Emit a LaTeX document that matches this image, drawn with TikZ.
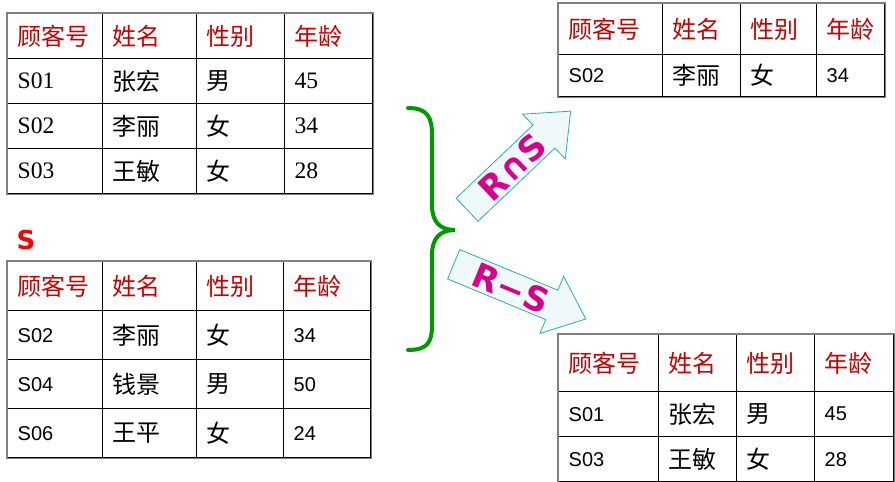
\documentclass[tikz,border=0pt]{standalone}
\usepackage{fontspec}
\usepackage{tikz}
\usetikzlibrary{matrix,shapes.arrows}
\setmainfont{Liberation Sans}
\newfontfamily\cjk{Noto Sans CJK SC}[Scale=1.2]
\newfontfamily\serifnum{Liberation Serif}[Scale=1.18]
\newfontfamily\opfont{DejaVu Sans}
\definecolor{hdred}{RGB}{200,0,0}
\definecolor{bracegreen}{RGB}{0,153,0}
\definecolor{opfill}{RGB}{240,249,249}
\definecolor{opline}{RGB}{50,170,170}
\definecolor{optext}{RGB}{215,0,140}
\begin{document}
\begin{tikzpicture}[
            x = 1pt, y = 1pt,
            tbl/.style = {matrix of nodes, inner sep = 0pt, anchor = north west,
                          column sep = -1pt, row sep = -1pt,
                          nodes = {draw, line width = 1pt, inner xsep = 10pt, inner ysep = 0pt,
                                   align = left, anchor = center,
                                   font = \fontsize{20}{24}\selectfont},
                          row 1/.style = {nodes = {text = hdred}}},
            cols/.style n args = {4}{column 1/.style = {nodes = {text width = #1}},
                                     column 2/.style = {nodes = {text width = #2}},
                                     column 3/.style = {nodes = {text width = #3}},
                                     column 4/.style = {nodes = {text width = #4}}},
            outer/.style = {draw = gray, line width = 1.5pt},
            opbox/.style = {single arrow, draw = opline, fill = opfill, line width = 0.8pt,
                            minimum height = 143pt, text height = 25pt, text depth = 0pt,
                            inner ysep = 3pt, inner xsep = 2pt,
                            single arrow head extend = 15pt, single arrow tip angle = 80,
                            text = optext, font = \opfont\bfseries\fontsize{34}{36}\selectfont}
            ]
            \useasboundingbox (0,0) rectangle (895,482);

            % R
            \matrix (R) [tbl, cols = {75pt}{74pt}{68pt}{68pt},
                         nodes = {minimum height = 45pt, font = \serifnum\fontsize{20}{24}\selectfont}] at (7,469) {
                \cjk 顾客号 & \cjk 姓名 & \cjk 性别 & \cjk 年龄 \\
                S01 & \cjk 张宏 & \cjk 男 & 45 \\
                S02 & \cjk 李丽 & \cjk 女 & 34 \\
                S03 & \cjk 王敏 & \cjk 女 & 28 \\
            };

            % S
            \node[text = red, font = \opfont\bfseries\fontsize{26}{28}\selectfont] (slabel) at (26,242) {S};
            \matrix (S) [tbl, cols = {75pt}{74pt}{67pt}{67pt},
                         nodes = {minimum height = 49pt}] at (7,221) {
                \cjk 顾客号 & \cjk 姓名 & \cjk 性别 & \cjk 年龄 \\
                S02 & \cjk 李丽 & \cjk 女 & 34 \\
                S04 & \cjk 钱景 & \cjk 男 & 50 \\
                S06 & \cjk 王平 & \cjk 女 & 24 \\
            };

            % R intersect S
            \matrix (RS) [tbl, cols = {84pt}{58pt}{56pt}{48pt},
                          nodes = {minimum height = 42pt},
                          row 1/.append style = {nodes = {minimum height = 51pt}}] at (558,479) {
                \cjk 顾客号 & \cjk 姓名 & \cjk 性别 & \cjk 年龄 \\
                S02 & \cjk 李丽 & \cjk 女 & 34 \\
            };

            % R minus S
            \matrix (RmS) [tbl, cols = {80pt}{58pt}{58pt}{59pt},
                           nodes = {minimum height = 45pt},
                           row 1/.append style = {nodes = {minimum height = 57pt}}] at (558,148) {
                \cjk 顾客号 & \cjk 姓名 & \cjk 性别 & \cjk 年龄 \\
                S01 & \cjk 张宏 & \cjk 男 & 45 \\
                S03 & \cjk 王敏 & \cjk 女 & 28 \\
            };

            \foreach \t in {R,S,RS,RmS}
                \draw[outer] (\t.north west) rectangle (\t.south east);

            % brace
            \draw[bracegreen, line width = 4pt, line cap = round]
                (408,374) .. controls (428,374) and (432,364) .. (432,347) -- (432,277)
                .. controls (432,260) and (440,252) .. (455,252)
                .. controls (440,252) and (432,244) .. (432,227) -- (432,157)
                .. controls (432,140) and (428,132) .. (408,132);

            % operations
            \node[opbox, rotate = 43.6] (isect) at (512,315) {R∩S\hspace{20pt}};
            \node[opbox, rotate = -22.5] (diff) at (511,194) {R−S\hspace{16pt}};
\end{tikzpicture}
\end{document}
